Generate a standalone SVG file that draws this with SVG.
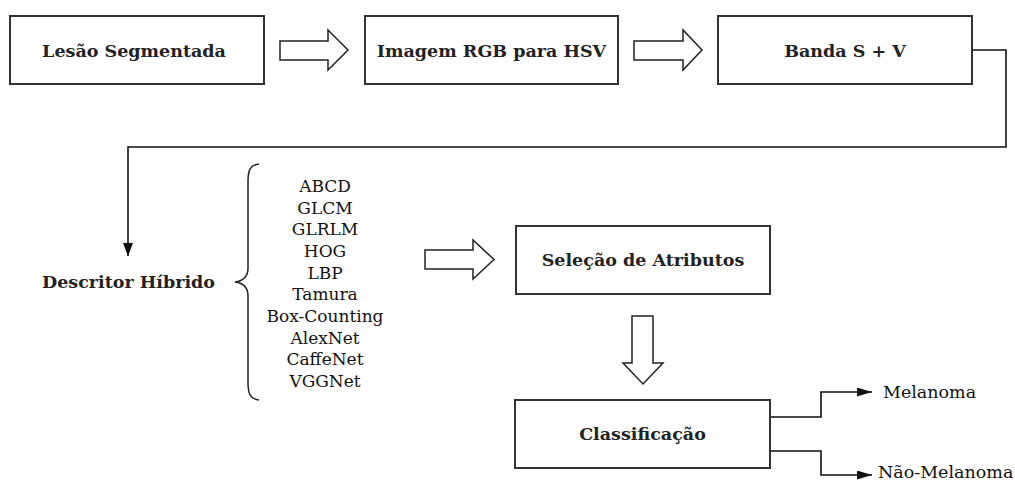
<svg xmlns="http://www.w3.org/2000/svg" width="1015" height="483" viewBox="0 0 1015 483">
<style>
.box{fill:#fff;stroke:#333;stroke-width:2}
.blk{fill:#fff;stroke:#222;stroke-width:1.5;stroke-linejoin:miter}
.con{fill:none;stroke:#111;stroke-width:1.6}
.t{font-family:"DejaVu Serif","Liberation Serif",serif;font-weight:bold;font-size:17.5px;fill:#222;text-anchor:middle}
.l{font-family:"DejaVu Serif","Liberation Serif",serif;font-size:17px;fill:#111;text-anchor:middle}
.o{font-family:"DejaVu Serif","Liberation Serif",serif;font-size:17.5px;fill:#111}
</style>
<defs>
<marker id="ah" markerWidth="14" markerHeight="10" refX="13" refY="5" orient="auto" markerUnits="userSpaceOnUse">
<path d="M0,0 L13,5 L0,10 Z" fill="#111"/>
</marker>
<marker id="ah2" markerWidth="16" markerHeight="10" refX="15" refY="4.5" orient="auto" markerUnits="userSpaceOnUse">
<path d="M0,0 L15,4.5 L0,9 Z" fill="#111"/>
</marker>
</defs>
<rect width="1015" height="483" fill="#fff"/>
<g id="connectors">
<path class="con" d="M972,50 H1006 V147 H128 V256" marker-end="url(#ah)"/>
<path class="con" d="M770,417 H821 V392 H872" marker-end="url(#ah2)"/>
<path class="con" d="M770,451 H821 V475 H872" marker-end="url(#ah2)"/>
<path class="blk" d="M280,41 H328 V30 L348,50 L328,70 V60 H280 Z"/>
<path class="blk" d="M634,41 H683 V30 L702,50 L683,70 V60 H634 Z"/>
<path class="blk" d="M425,250 H473 V240 L494,259.5 L473,279 V269 H425 Z"/>
<path class="blk" d="M632,316 H653 V363 H663 L643,384 L623,363 H632 Z"/>
</g>
<g id="n1"><rect class="box" x="10" y="16" width="254" height="68"/><text class="t" x="134" y="57">Lesão Segmentada</text></g>
<g id="n2"><rect class="box" x="365" y="16" width="253" height="68"/><text class="t" x="491.5" y="57">Imagem RGB para HSV</text></g>
<g id="n3"><rect class="box" x="718" y="16" width="254" height="68"/><text class="t" x="845" y="57">Banda S + V</text></g>
<g id="n4"><text class="t" x="128.5" y="288">Descritor Híbrido</text></g>
<g id="brace"><path d="M259,164 C250,165 248,170 248,182 V268 C248,277 243,281 235,282 C243,283 248,287 248,296 V382 C248,394 250,399 259,400" fill="none" stroke="#222" stroke-width="1.5"/></g>
<g id="list">
<text class="l" x="325" y="192">ABCD</text>
<text class="l" x="325" y="214">GLCM</text>
<text class="l" x="325" y="235">GLRLM</text>
<text class="l" x="325" y="257">HOG</text>
<text class="l" x="325" y="279">LBP</text>
<text class="l" x="325" y="300">Tamura</text>
<text class="l" x="325" y="322">Box-Counting</text>
<text class="l" x="325" y="344">AlexNet</text>
<text class="l" x="325" y="365">CaffeNet</text>
<text class="l" x="325" y="387">VGGNet</text>
</g>
<g id="n5"><rect class="box" x="516" y="226" width="254" height="68"/><text class="t" x="643" y="266">Seleção de Atributos</text></g>
<g id="n6"><rect class="box" x="515" y="400" width="255" height="68"/><text class="t" x="642.5" y="440">Classificação</text></g>
<g id="out"><text class="o" x="883" y="398">Melanoma</text><text class="o" x="878" y="478">Não-Melanoma</text></g>
</svg>
